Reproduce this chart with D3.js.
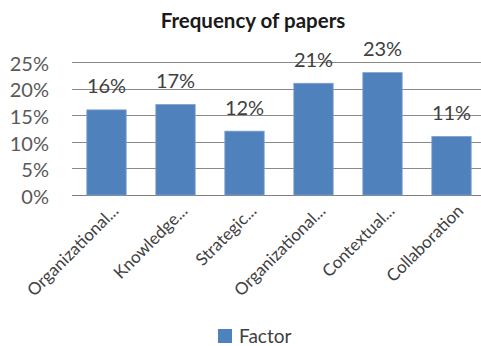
<!DOCTYPE html>
<html>
<head>
<meta charset="utf-8">
<script src="https://cdn.jsdelivr.net/npm/d3@7"></script>
<style>
  html, body { margin: 0; padding: 0; background: #fff; }
  svg { display: block; font-family: Lato, "Open Sans", sans-serif; }
</style>
</head>
<body>
<svg id="chart" width="481" height="346"></svg>
<script>
// Share of papers per factor
const categories = ["Organizational...", "Knowledge...", "Strategic...", "Organizational...", "Contextual...", "Collaboration"];
const values = [16, 17, 12, 21, 23, 11];
const yTicks = [0, 5, 10, 15, 20, 25];
const seriesName = "Factor";
const title = "Frequency of papers";

const svg = d3.select("#chart");
const margin = { left: 72, top: 62, bottom: 151 };
const plotRight = 486;
const plotBottom = 346 - margin.bottom;

const x = d3.scaleBand()
  .domain(d3.range(categories.length))
  .range([margin.left, plotRight])
  .paddingInner(0.43)
  .paddingOuter(0.215);

const y = d3.scaleLinear().domain([0, 25]).range([plotBottom, margin.top]);

// Title
svg.append("text")
  .attr("x", 253).attr("y", 28)
  .attr("text-anchor", "middle")
  .attr("font-weight", "bold")
  .attr("font-size", 20.5)
  .attr("fill", "#1a1a1a")
  .text(title);

// Horizontal gridlines
svg.append("g")
  .selectAll("line")
  .data(yTicks)
  .join("line")
  .attr("x1", margin.left).attr("x2", 481)
  .attr("y1", d => Math.round(y(d)) + 0.5)
  .attr("y2", d => Math.round(y(d)) + 0.5)
  .attr("stroke", d => d === 0 ? "#808080" : "#8a8a8a")
  .attr("stroke-width", 1);

// Y axis labels
const yAxis = d3.axisLeft(y).tickValues(yTicks).tickFormat(d => d + "%").tickSize(0).tickPadding(0);
const yg = svg.append("g").attr("transform", `translate(49,1)`).call(yAxis);
yg.select(".domain").remove();
yg.selectAll("text")
  .attr("font-size", 20)
  .attr("font-family", "Lato, 'Open Sans', sans-serif")
  .attr("fill", "#595959")
  .attr("dy", "0.36em");

// Bars
svg.append("g")
  .selectAll("rect")
  .data(values)
  .join("rect")
  .attr("x", (d, i) => x(i))
  .attr("y", d => y(d))
  .attr("width", x.bandwidth())
  .attr("height", d => y(0) - y(d))
  .attr("fill", "#4f81bd")
  .attr("stroke", "#7da0cc")
  .attr("stroke-width", 0.8);

// Value labels
svg.append("g")
  .selectAll("text")
  .data(values)
  .join("text")
  .attr("x", (d, i) => x(i) + x.bandwidth() / 2)
  .attr("y", d => y(d) - 16.5)
  .attr("text-anchor", "middle")
  .attr("font-size", 20)
  .attr("fill", "#404040")
  .text(d => d + "%");

// Category labels, rotated
const xAxis = d3.axisBottom(x).tickFormat(i => categories[i]).tickSize(0).tickPadding(0);
const xg = svg.append("g").attr("transform", `translate(0,${plotBottom})`).call(xAxis);
xg.select(".domain").remove();
xg.selectAll("text")
  .attr("font-size", 17)
  .attr("font-family", "Lato, 'Open Sans', sans-serif")
  .attr("fill", "#404040")
  .attr("text-anchor", "end")
  .attr("dy", null)
  .attr("y", 0)
  .attr("transform", "translate(13,17) rotate(-45)");

// Legend
const legend = svg.append("g").attr("transform", "translate(218,329)");
legend.append("rect")
  .attr("width", 14).attr("height", 14)
  .attr("fill", "#4f81bd");
legend.append("text")
  .attr("x", 21).attr("y", 13.5)
  .attr("font-size", 19)
  .attr("fill", "#404040")
  .text(seriesName);
</script>
</body>
</html>
